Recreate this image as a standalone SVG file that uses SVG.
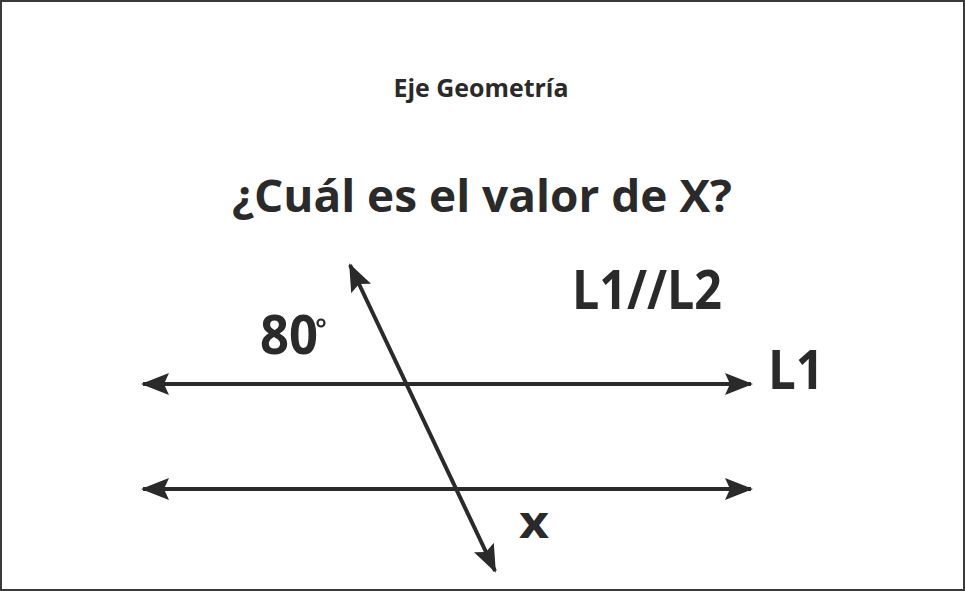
<svg xmlns="http://www.w3.org/2000/svg" width="965" height="591" viewBox="0 0 965 591">
<style>
text{font-family:"Open Sans","Noto Sans","Liberation Sans",sans-serif;font-weight:bold;fill:#2a2a2a}
.ln{stroke:#2a2a2a;stroke-width:4;fill:none}
</style>
<defs>
<marker id="ah" viewBox="0 0 28 22" refX="26" refY="11" markerWidth="7" markerHeight="5.5" orient="auto-start-reverse" markerUnits="strokeWidth">
<path d="M0,0 L28,11 L0,22 L5,11 Z" fill="#2a2a2a"/>
</marker>
</defs>
<rect x="1" y="1" width="963" height="589" fill="#fff" stroke="#3a3a3a" stroke-width="2"/>
<g id="header">
<text x="481" y="97" font-size="25" text-anchor="middle" textLength="175" lengthAdjust="spacingAndGlyphs">Eje Geometría</text>
<text x="482" y="212" font-size="45" text-anchor="middle" textLength="500" lengthAdjust="spacingAndGlyphs">¿Cuál es el valor de X?</text>
</g>
<g id="connectors">
<line class="ln" x1="143" y1="384" x2="751" y2="384" marker-start="url(#ah)" marker-end="url(#ah)"/>
<line class="ln" x1="143" y1="489" x2="751" y2="489" marker-start="url(#ah)" marker-end="url(#ah)"/>
<line class="ln" x1="350" y1="265" x2="495" y2="571" marker-start="url(#ah)" marker-end="url(#ah)"/>
</g>
<g id="labels">
<text x="572" y="309" font-size="53" textLength="150" lengthAdjust="spacingAndGlyphs">L1//L2</text>
<text x="768" y="389" font-size="53" textLength="56" lengthAdjust="spacingAndGlyphs">L1</text>
<text x="260" y="354" font-size="53" textLength="58" lengthAdjust="spacingAndGlyphs">80</text>
<circle cx="321" cy="323" r="3.5" fill="none" stroke="#2a2a2a" stroke-width="2.2"/>
<text x="519" y="538" font-size="44" textLength="30" lengthAdjust="spacingAndGlyphs">x</text>
</g>
</svg>
